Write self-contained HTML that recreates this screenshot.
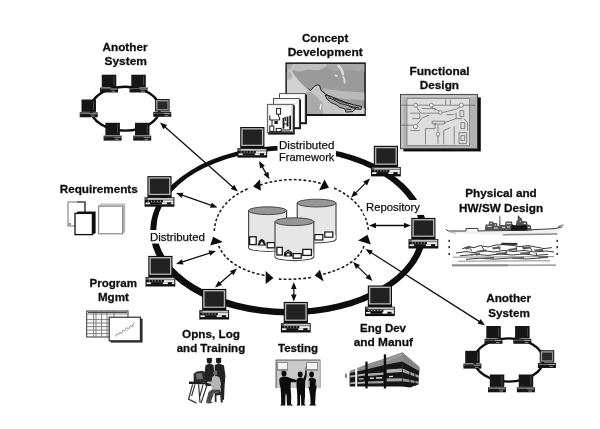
<!DOCTYPE html>
<html><head><meta charset="utf-8"><title>Distributed Framework</title>
<style>
html,body{margin:0;padding:0;background:#fff;}
body{width:600px;height:429px;overflow:hidden;font-family:"Liberation Sans",sans-serif;}
svg{display:block;}
text{font-family:"Liberation Sans",sans-serif;fill:#111;}
.b{font-weight:bold;font-size:11.7px;stroke:#111;stroke-width:0.3px;stroke-linejoin:round;}
.r{font-size:11.1px;stroke:#111;stroke-width:0.25px;stroke-linejoin:round;}
</style></head><body>
<svg width="600" height="429" viewBox="0 0 600 429">
<defs>
<filter id="soft" x="-5%" y="-5%" width="110%" height="110%"><feGaussianBlur stdDeviation="0.4"/></filter>
<g id="pc">
 <rect x="0" y="0" width="24.2" height="21.6" fill="#0e0e0e"/>
 <rect x="1.1" y="1.1" width="22" height="17.9" fill="#b2b2b2"/>
 <rect x="2.5" y="2.5" width="19.2" height="15.2" fill="#242424"/>
 <rect x="-2.8" y="21.2" width="29.8" height="9.4" fill="#0e0e0e"/>
 <rect x="-1.9" y="21.9" width="28" height="1.9" fill="#c4c4c4"/>
 <rect x="-1.9" y="21.9" width="2.4" height="1.9" fill="#555"/>
 <rect x="15.6" y="24.2" width="10.4" height="2.3" fill="#ececec"/>
 <rect x="-1.7" y="26.4" width="27.7" height="1.8" fill="#f0f0f0"/>
 <rect x="2.6" y="26.3" width="12" height="2" fill="#0e0e0e"/>
 <rect x="19.6" y="26.3" width="4.2" height="2" fill="#0e0e0e"/>
 <rect x="0.4" y="24.6" width="1.2" height="0.9" fill="#ddd"/><rect x="3.4" y="24.6" width="1.2" height="0.9" fill="#ddd"/><rect x="6.4" y="24.6" width="1.2" height="0.9" fill="#ddd"/><rect x="9.4" y="24.6" width="1.2" height="0.9" fill="#ddd"/><rect x="12.4" y="24.6" width="1.2" height="0.9" fill="#ddd"/>
</g>
<g id="sp">
 <rect x="1.8" y="0" width="14.5" height="12.4" fill="#161616"/>
 <rect x="13.6" y="1.6" width="0.7" height="9" fill="#5a5a5a"/>
 <rect x="0" y="12.8" width="18" height="5" fill="#161616"/>
 <rect x="0.8" y="13.9" width="16.4" height="0.9" fill="#c4c4c4"/>
 <rect x="1.4" y="14.4" width="9" height="1.4" fill="#161616"/>
 <rect x="11.5" y="16.1" width="3.6" height="0.8" fill="#aaa"/>
</g>
<g id="spl">
 <rect x="1.8" y="0" width="14.5" height="12.4" fill="#161616"/>
 <rect x="2.8" y="1" width="12.5" height="10.4" fill="#9c9c9c"/>
 <rect x="4.2" y="2.4" width="10" height="7.8" fill="#2a2a2a"/>
 <rect x="0" y="12.8" width="18" height="5" fill="#161616"/>
 <rect x="0.8" y="13.9" width="16.4" height="0.9" fill="#c4c4c4"/>
 <rect x="1.4" y="14.4" width="9" height="1.4" fill="#161616"/>
 <rect x="11.5" y="16.1" width="3.6" height="0.8" fill="#aaa"/>
</g>
</defs>
<rect width="600" height="429" fill="#fff"/>
<g filter="url(#soft)">

<!-- main ring -->
<ellipse cx="288.32" cy="230.5" rx="138.1" ry="85.0" fill="#0a0a0a"/>
<ellipse cx="288.04" cy="229.7" rx="131.68" ry="79.3" fill="#fff" transform="rotate(0.655 288.04 229.7)"/>
<!-- dashed ring -->
<g fill="none" stroke="#1a1a1a" stroke-width="1.55" stroke-dasharray="2.8 2.1">
<path d="M 260 185 Q 291 175 321 183.5"/>
<path d="M 334 188 Q 366 203 368.5 231"/>
<path d="M 364 246 Q 357 266 321 274.8"/>
<path d="M 311 277.5 Q 293 280 277 279"/>
<path d="M 264.5 275.5 Q 228 268 218.6 245.7"/>
<path d="M 214.3 231 Q 216 203 248 188.5"/>
</g>
<g fill="#111">
<polygon points="253.1,186.6 260.0,179.3 260.9,190.8"/>
<polygon points="324.5,179.6 319.0,190.5 329.0,187.8"/>
<polygon points="367.5,234.7 358.0,240.5 370.9,244.5"/>
<polygon points="314.7,275.6 319.9,269.7 323.7,281.5"/>
<polygon points="273.5,278.0 265.7,271.0 265.7,283.9"/>
<polygon points="222.9,242.1 213.1,236.7 210.2,245.5"/>
</g>
<!-- cylinders -->
<path d="M 248.6 210.70000000000002 L 248.6 247.5 A 19.000000000000014 3.9 0 0 0 286.6 247.5 L 286.6 210.70000000000002 Z" fill="#e6e6e6" stroke="#4a4a4a" stroke-width="1.2"/><path d="M 249.1 243.0 A 18.500000000000014 3.9 0 0 0 286.1 243.0 L 286.1 247.0 A 18.500000000000014 3.9 0 0 1 249.1 247.0 Z" fill="#fafafa"/><ellipse cx="267.6" cy="210.70000000000002" rx="19.000000000000014" ry="3.9" fill="#969696" stroke="#4a4a4a" stroke-width="1"/>
<g fill="#fff" stroke="#151515" stroke-width="1.3"><rect x="249.6" y="236.8" width="6.6" height="7.8"/><rect x="267.2" y="242.6" width="7.4" height="5.2"/></g>
<path d="M257.4 245.6 L259.4 240.4 L261.8 238.8 L264.2 240.4 L266.2 245.6 Z" fill="#151515"/><path d="M259.8 244.6 L261.8 241.6 L263.8 244.6Z" fill="#fff"/>
<path d="M 297.2 203.1 L 297.2 238.9 A 19.400000000000006 3.9 0 0 0 336 238.9 L 336 203.1 Z" fill="#e6e6e6" stroke="#4a4a4a" stroke-width="1.2"/><path d="M 297.7 234.4 A 18.900000000000006 3.9 0 0 0 335.5 234.4 L 335.5 238.4 A 18.900000000000006 3.9 0 0 1 297.7 238.4 Z" fill="#fafafa"/><ellipse cx="316.6" cy="203.1" rx="19.400000000000006" ry="3.9" fill="#969696" stroke="#4a4a4a" stroke-width="1"/>
<g fill="#fff" stroke="#151515" stroke-width="1.2"><rect x="314.8" y="234.6" width="8" height="5.4"/><rect x="324.8" y="232" width="8" height="5.2"/></g>
<path d="M 275 221.70000000000002 L 275 256.70000000000005 A 19.400000000000006 3.9 0 0 0 313.8 256.70000000000005 L 313.8 221.70000000000002 Z" fill="#e6e6e6" stroke="#4a4a4a" stroke-width="1.2"/><path d="M 275.5 252.20000000000005 A 18.900000000000006 3.9 0 0 0 313.3 252.20000000000005 L 313.3 256.20000000000005 A 18.900000000000006 3.9 0 0 1 275.5 256.20000000000005 Z" fill="#fafafa"/><ellipse cx="294.4" cy="221.70000000000002" rx="19.400000000000006" ry="3.9" fill="#969696" stroke="#4a4a4a" stroke-width="1"/>
<g fill="#fff" stroke="#151515" stroke-width="1.3"><rect x="276.9" y="247.4" width="5.4" height="7.6"/><rect x="293.2" y="253.6" width="8" height="4.6"/><rect x="302.8" y="249.4" width="8.6" height="6"/></g>
<path d="M283.8 256.4 L284.2 252.4 L288.2 249.6 L292.2 252.4 L292.6 256.4 Z" fill="#151515"/><rect x="286.8" y="253.6" width="2.8" height="2" fill="#fff"/><path d="M286 252.6 L288.2 251.2 L290.4 252.6" stroke="#ddd" stroke-width="0.6" fill="none"/>
<!-- arrows -->
<line x1="163.1" y1="125.3" x2="234.7" y2="188.7" stroke="#111" stroke-width="1.3"/>
<polygon points="237.8,191.5 230.7,189.0 234.4,184.8" fill="#111"/>
<polygon points="160.0,122.5 163.4,129.2 167.1,125.0" fill="#111"/>
<line x1="180.0" y1="194.4" x2="213.5" y2="206.1" stroke="#111" stroke-width="1.3"/>
<polygon points="217.5,207.5 210.0,207.8 211.8,202.5" fill="#111"/>
<polygon points="176.0,193.0 181.7,198.0 183.5,192.7" fill="#111"/>
<line x1="261.1" y1="164.6" x2="267.3" y2="175.6" stroke="#111" stroke-width="1.3"/>
<polygon points="269.4,179.2 263.5,174.5 268.4,171.7" fill="#111"/>
<polygon points="259.0,161.0 260.0,168.5 264.9,165.7" fill="#111"/>
<line x1="367.0" y1="181.6" x2="354.0" y2="194.6" stroke="#111" stroke-width="1.3"/>
<polygon points="351.0,197.6 354.0,190.7 357.9,194.6" fill="#111"/>
<polygon points="370.0,178.6 363.1,181.6 367.0,185.5" fill="#111"/>
<line x1="373.2" y1="225.5" x2="406.8" y2="225.5" stroke="#111" stroke-width="1.3"/>
<polygon points="411.0,225.5 404.0,228.3 404.0,222.7" fill="#111"/>
<polygon points="369.0,225.5 376.0,228.3 376.0,222.7" fill="#111"/>
<line x1="356.0" y1="264.9" x2="369.5" y2="278.1" stroke="#111" stroke-width="1.3"/>
<polygon points="372.5,281.0 365.5,278.1 369.4,274.1" fill="#111"/>
<polygon points="353.0,262.0 356.1,268.9 360.0,264.9" fill="#111"/>
<line x1="369.0" y1="251.3" x2="481.5" y2="322.9" stroke="#111" stroke-width="1.3"/>
<polygon points="485.0,325.2 477.6,323.8 480.6,319.1" fill="#111"/>
<polygon points="365.5,249.0 369.9,255.1 372.9,250.4" fill="#111"/>
<line x1="293.8" y1="286.2" x2="293.8" y2="297.3" stroke="#111" stroke-width="1.3"/>
<polygon points="293.8,301.5 291.0,294.5 296.6,294.5" fill="#111"/>
<polygon points="293.8,282.0 291.0,289.0 296.6,289.0" fill="#111"/>
<line x1="218.2" y1="284.8" x2="233.8" y2="271.2" stroke="#111" stroke-width="1.3"/>
<polygon points="237.0,268.5 233.5,275.2 229.9,271.0" fill="#111"/>
<polygon points="215.0,287.5 222.1,285.0 218.5,280.8" fill="#111"/>
<line x1="180.0" y1="262.7" x2="212.0" y2="252.3" stroke="#111" stroke-width="1.3"/>
<polygon points="216.0,251.0 210.2,255.8 208.5,250.5" fill="#111"/>
<polygon points="176.0,264.0 183.5,264.5 181.8,259.2" fill="#111"/>
<rect x="277.5" y="139" width="58.5" height="24.5" fill="#fff"/>
<rect x="364" y="200" width="64" height="14.9" fill="#fff"/>
<rect x="148.5" y="230" width="58" height="13.5" fill="#fff"/>
<!-- computers -->
<use href="#pc" x="240.2" y="127"/>
<use href="#pc" x="373.8" y="145.8"/>
<use href="#pc" x="411.3" y="217.9"/>
<use href="#pc" x="367.8" y="285.5"/>
<use href="#pc" x="283.7" y="301.9"/>
<use href="#pc" x="202.1" y="288.9"/>
<use href="#pc" x="148.3" y="255.9"/>
<use href="#pc" x="147.4" y="176.1"/>
<!-- small systems -->
<ellipse cx="125.2" cy="108.7" rx="34.4" ry="21.9" fill="none" stroke="#0a0a0a" stroke-width="2.4"/>
<use href="#sp" x="100" y="74.7"/>
<use href="#sp" x="129.5" y="74.7"/>
<use href="#sp" x="79.7" y="99.5"/>
<use href="#spl" x="153.3" y="99"/>
<use href="#sp" x="103.6" y="122.8"/>
<use href="#sp" x="133.2" y="122.8"/>
<ellipse cx="508.8" cy="360" rx="34.4" ry="21.6" fill="none" stroke="#0a0a0a" stroke-width="2.4"/>
<use href="#sp" x="484.5" y="326"/>
<use href="#sp" x="513.3" y="326"/>
<use href="#sp" x="463.4" y="350.8"/>
<use href="#spl" x="537.9" y="350.2"/>
<use href="#sp" x="488" y="374.5"/>
<use href="#sp" x="516.9" y="374.5"/>
<!-- labels -->
<text x="102.5" y="51" class="b" text-anchor="start" textLength="45" lengthAdjust="spacingAndGlyphs">Another</text>
<text x="104.5" y="65" class="b" text-anchor="start" textLength="42.5" lengthAdjust="spacingAndGlyphs">System</text>
<text x="302" y="41.8" class="b" text-anchor="start" textLength="46.3" lengthAdjust="spacingAndGlyphs">Concept</text>
<text x="287.7" y="55.5" class="b" text-anchor="start" textLength="75" lengthAdjust="spacingAndGlyphs">Development</text>
<text x="409.6" y="74.6" class="b" text-anchor="start" textLength="60" lengthAdjust="spacingAndGlyphs">Functional</text>
<text x="419.8" y="88.7" class="b" text-anchor="start" textLength="39.2" lengthAdjust="spacingAndGlyphs">Design</text>
<text x="59.7" y="193.1" class="b" text-anchor="start" textLength="78" lengthAdjust="spacingAndGlyphs">Requirements</text>
<text x="465.2" y="196.7" class="b" text-anchor="start" textLength="71.6" lengthAdjust="spacingAndGlyphs">Physical and</text>
<text x="459.1" y="211.9" class="b" text-anchor="start" textLength="84" lengthAdjust="spacingAndGlyphs">HW/SW Design</text>
<text x="89.5" y="287" class="b" text-anchor="start" textLength="47.4" lengthAdjust="spacingAndGlyphs">Program</text>
<text x="97.9" y="301.4" class="b" text-anchor="start" textLength="31" lengthAdjust="spacingAndGlyphs">Mgmt</text>
<text x="182" y="337.5" class="b" text-anchor="start" textLength="58" lengthAdjust="spacingAndGlyphs">Opns, Log</text>
<text x="176.7" y="351.7" class="b" text-anchor="start" textLength="68.5" lengthAdjust="spacingAndGlyphs">and Training</text>
<text x="278" y="351.7" class="b" text-anchor="start" textLength="40" lengthAdjust="spacingAndGlyphs">Testing</text>
<text x="360" y="332" class="b" text-anchor="start" textLength="46" lengthAdjust="spacingAndGlyphs">Eng Dev</text>
<text x="353.7" y="346.3" class="b" text-anchor="start" textLength="59.3" lengthAdjust="spacingAndGlyphs">and Manuf</text>
<text x="486.2" y="301.9" class="b" text-anchor="start" textLength="45" lengthAdjust="spacingAndGlyphs">Another</text>
<text x="488.3" y="316.6" class="b" text-anchor="start" textLength="41.5" lengthAdjust="spacingAndGlyphs">System</text>
<text x="279" y="149.4" class="r" text-anchor="start" textLength="55.4" lengthAdjust="spacingAndGlyphs">Distributed</text>
<text x="279" y="161" class="r" text-anchor="start" textLength="55.4" lengthAdjust="spacingAndGlyphs">Framework</text>
<text x="366" y="211" class="r" text-anchor="start" textLength="54" lengthAdjust="spacingAndGlyphs">Repository</text>
<text x="150" y="240.5" class="r" text-anchor="start" textLength="55" lengthAdjust="spacingAndGlyphs">Distributed</text>
<!-- Concept Development map -->
<g>
<rect x="285.4" y="62.4" width="80.4" height="53.6" fill="#141414"/>
<rect x="286.9" y="63.9" width="77.4" height="50" fill="#9a9a9a"/>
<clipPath id="mapc"><rect x="286.9" y="63.9" width="77.4" height="50"/></clipPath>
<g clip-path="url(#mapc)">
<path d="M286 63 L328 63 L326 67 L318 70.5 L308 69.6 L299 71.4 L294 70 L291 72 L286 70 Z" fill="#bebebe"/>
<path d="M286 63 L293 63 L292 66 L289.6 69 L286 70 Z" fill="#a8a8a8"/>
<path d="M326 63 L365 63 L365 72 L350 70 L338 71 L328 69 Z" fill="#a6a6a6"/>
<path d="M286 72 L291 70 L295 76 L300 82 L305 87 L308 89 L306 93 L303 100 L300 114.5 L286 114.5 Z" fill="#d2d2d2"/>
<path d="M286 72 L290 71 L293 76 L290 80 L286 79 Z" fill="#b4b4b4"/>
<path d="M308 89 L310.6 91 L313.5 87.4 L317 85.2 L319.6 86 L321 90.8 L325.5 94.2 L331 97.4 L340 101.6 L350 105 L361.6 107.4 L365 108 L365 114.5 L300 114.5 L303 100 L306 93 Z" fill="#c6c6c6"/>
<path d="M306 93 L310.6 91.6 L318 98 L322.6 103 L323 114.5 L300 114.5 L303 100 Z" fill="#a9a9a9"/>
<path d="M323 88.6 Q340 91.6 365 92.4 L365 100.6 Q348 100 331 97 L325.5 94 Z" fill="#b9b9b9"/>
<path d="M338.4 65.6 Q342 69 343 74.2" fill="none" stroke="#dcdcdc" stroke-width="2.4" stroke-linecap="round"/>
<path d="M343.4 77 Q345 80 344.6 82.8 M335.4 75.4 L337 76" fill="none" stroke="#d8d8d8" stroke-width="1.9" stroke-linecap="round"/>
<path d="M321 104.6 L320.2 109" stroke="#eee" stroke-width="1.5" stroke-linecap="round"/>
<path d="M340 108 L365 108.6 L365 114.5 L345 114.5 Z" fill="#d4d4d4"/>
<path d="M325 95 L331 96.4 L338 99.4 L346 102.4 L353 104.6 L361.6 106.6 L361 109.4 L355 109 L353 111.6 L346 112.2 L344.6 108.6 L340 107.6 L336 104.6 L331 102.6 L327 99 Z" fill="#a2a2a2" stroke="#222" stroke-width="1"/>
<path d="M328 97.4 L334 100 L340 103.4 L347 105.2 L353 107 L359 107.8 M333 98.4 L341 101.6 L349 104 M346 109 L351 109.6 M349 106.6 L356 108.6" stroke="#1e1e1e" stroke-width="0.9" fill="none"/>
<path d="M307.8 88.3 L310.6 90.6 L313.5 87 L317 84.8 L319.6 85.5 L321 90.5 L325.5 94 L331.2 97.1" fill="none" stroke="#262626" stroke-width="1"/>
</g>
</g>
<!-- paper stack -->
<g>
<rect x="280.6" y="94.6" width="26.4" height="29.6" fill="#161616"/><rect x="279.6" y="93.7" width="25.6" height="28.8" fill="#fff" stroke="#2a2a2a" stroke-width="0.8"/>
<rect x="274.4" y="99.4" width="26.6" height="29.8" fill="#161616"/><rect x="273.4" y="98.5" width="25.9" height="29" fill="#fff" stroke="#2a2a2a" stroke-width="0.8"/>
<rect x="268.2" y="105.2" width="26.6" height="29.4" fill="#161616"/><rect x="267.3" y="104.3" width="25.8" height="28.5" fill="#fff" stroke="#2a2a2a" stroke-width="0.8"/>
<rect x="268.9" y="105.9" width="22.6" height="25.3" fill="none" stroke="#cfcfcf" stroke-width="0.7"/>
<rect x="275.2" y="100" width="22.4" height="3.4" fill="none" stroke="#dcdcdc" stroke-width="0.6"/>
<g fill="none" stroke="#1c1c1c" stroke-width="1">
<rect x="276.6" y="108.4" width="4" height="5.8"/>
<path d="M278.6 114.2 L278.6 117 M269.8 115.4 L269.8 120 L279.6 120 M279.6 117 L279.6 120 M272 120 L272 126"/>
<rect x="269.8" y="126" width="4" height="5.4"/>
<rect x="276.2" y="128.4" width="5" height="3.4"/>
<path d="M269 132 L292.4 132" stroke-width="1.2"/>
<path d="M283.4 128.6 L283.4 118.4 L285.4 117.2 L285.4 121 M287.6 117 L287.6 126 M290.2 116 L290.2 129.6 M283.4 124 L287.6 124 M281.2 130 L290 130"/>
</g>
<path d="M282.6 118 L284.4 118 L284.4 128.6 L282.6 128.6Z M286.6 116.4 L288.4 116.4 L288.4 126.6 L286.6 126.6Z M289.4 115.4 L291 115.4 L291 129.6 L289.4 129.6Z" fill="#1c1c1c"/>
<rect x="274.4" y="121" width="3.4" height="3" fill="#1c1c1c"/>
</g>
<!-- Functional Design -->
<g>
<rect x="403.4" y="97.4" width="77.4" height="54" fill="#0c0c0c"/>
<rect x="400.5" y="94.4" width="77" height="54.4" fill="#b2b2b2" stroke="#3a3a3a" stroke-width="0.9"/>
<path d="M402.2 147 L402.2 96.2 L475.6 96.2" fill="none" stroke="#d6d6d6" stroke-width="1"/>
<rect x="407" y="98.6" width="62.5" height="47" fill="#dedede" stroke="#7c7c7c" stroke-width="0.8"/>
<g fill="none" stroke="#666" stroke-width="0.75" transform="translate(407 0.6) scale(0.956 1) translate(-406.6 0)">
<g fill="#f2f2f2">
<circle cx="415.6" cy="104.6" r="2"/><circle cx="432" cy="104.6" r="2"/><circle cx="441.4" cy="112" r="1.8"/><circle cx="463.4" cy="104.6" r="2.2"/><circle cx="415.6" cy="126" r="2.2"/><circle cx="439" cy="133.6" r="1.8"/>
</g>
<path d="M400 104.6 L413.6 104.6 M417.6 104.6 L430 104.6 M434 104.6 L461 104.6 M465.6 104.6 L478 104.6"/>
<path d="M416.6 106.4 L421 112.6 L439.6 112.6 M432.6 106.6 L440.2 110.6 M443.2 112 L458 108.6 L462 106.4"/>
<path d="M410 112.6 L420 112.6 L420 118 L412 118 M400 124.6 L413.4 124.6 M416.8 124 L423 117 L430 114.6"/>
<path d="M433 120.6 L446 120.6 L446 123.4 L433 123.4 Z M446 122 L458 118 L464 118 M458 112 L458 118"/>
<path d="M426 143.6 L426 128 L436 128 L436 122 M439 131.8 L439 124 M439 135.4 L439 143.6 M445 143.6 L445 130 L452 127"/>
<path d="M462 110 L466 110 L466 116 L462 116 Z M463 122 L467 122 L467 128 L463 128 Z"/>
<path d="M461 132 L469 132 L469 143 L461 143 Z M463 135 L467 135 L467 140 L463 140 Z M456 143.6 L456 126"/>
<path d="M447 99 L447 104 M452 99 L452 104 M422 108 L436 108 L436 110 M410 130 L420 130 M448 114 L456 114 M466 118 L470 122 L470 130"/>
</g>
</g>

<!-- Requirements icons -->
<g>
<rect x="68" y="202" width="17" height="24" fill="#fff" stroke="#8a8a8a" stroke-width="1.2"/>
<path d="M77 202 L85 202 L85 213" fill="none" stroke="#333" stroke-width="1.2"/>
<path d="M68.6 224 L71 224" stroke="#777" stroke-width="1.6"/>
<path d="M76 213.2 L77.8 211.4 L95.6 211.4 L95.6 232.8 L94 234.6 Z" fill="#111"/>
<rect x="75" y="213.4" width="17.4" height="21.2" fill="#fff" stroke="#111" stroke-width="1.3"/>
<rect x="101" y="204" width="23.8" height="27" fill="#fff" stroke="#b4b4b4" stroke-width="0.9"/>
<rect x="100" y="205" width="23.8" height="27.6" fill="#fff" stroke="#a2a2a2" stroke-width="0.9"/>
<rect x="98.6" y="206.2" width="24" height="27.6" fill="#fff" stroke="#8a8a8a" stroke-width="1.2"/>
<path d="M123.8 206.4 L123.8 233" stroke="#aaa" stroke-width="1.2"/>
</g>
<!-- Program Mgmt icons -->
<g>
<rect x="86.6" y="311" width="41.4" height="26" fill="#fafafa" stroke="#555" stroke-width="1.2"/>
<g stroke="#777" stroke-width="0.9" fill="none">
<path d="M87 314 L128 314 M87 319.6 L110 319.6 M87 323 L110 323 M87 326.6 L110 326.6 M87 330 L110 330 M87 333.6 L110 333.6"/>
<path d="M93.6 311 L93.6 337 M96 311 L96 337 M101.6 311 L101.6 337 M107 311 L107 337 M114 311 L114 317"/>
</g>
<path d="M88 312.4 L127 312.4" stroke="#333" stroke-width="1"/>
<rect x="110.6" y="318.6" width="32" height="24" fill="#333"/>
<rect x="109.2" y="317.2" width="31.2" height="23.6" fill="#fff" stroke="#222" stroke-width="1.1"/>
<path d="M115.6 336 L117 333.6 L118.4 335 L120 332 L121.6 333.4 L123 330 L124.6 331 L126.6 327.6 L128.6 329 L130.4 325.6 L131.8 327 L133.4 323.6 L134.6 322.4" fill="none" stroke="#9a9a9a" stroke-width="1"/>
<path d="M115 337 L116.6 335.6 M121 335 L123 332 M127 331.4 L129 328 M132 328.6 L133.6 325" fill="none" stroke="#bbb" stroke-width="0.8"/>
</g>

<!-- Opns people -->
<g>
<ellipse cx="209.4" cy="360.8" rx="2.6" ry="3" fill="#1c1c1c"/><path d="M206.4 359.4 L212.4 359 L212 358 L207 358.2Z" fill="#1c1c1c"/>
<path d="M205.4 365.4 Q209.4 363 213.6 365 L214.4 374 L213.6 386 L205.6 386 L204.6 374 Z" fill="#222"/>
<ellipse cx="218.6" cy="360.8" rx="2.6" ry="3" fill="#1c1c1c"/><path d="M215.6 359.4 L221.6 359 L221.2 358 L216.2 358.2Z" fill="#1c1c1c"/>
<path d="M214.8 365 Q218.6 363 224 365.4 L225.4 376 L224.6 386 L224 399.8 L220.8 399.8 L220.6 388 L215 386 Z" fill="#222"/>
<path d="M214 366 L214.6 372 L216 371" stroke="#888" stroke-width="0.7" fill="none"/>
<!-- console -->
<path d="M193.6 374 Q196 370.4 203 371 L205.6 372.6 L206 382 L193.6 382 Z" fill="#2a2a2a"/>
<path d="M196 373.6 L202 373 L203 379 L196.6 379.6 Z" fill="#6e6e6e"/>
<path d="M189 381.6 L211.6 382.4 L211.6 384.6 L189 384 Z" fill="#1e1e1e"/>
<path d="M192.6 384.4 L188.6 399 M195 384.4 L191.6 396 M198.6 384.4 L200 402.6 M203 384.6 L199.4 398 M207 385 L201 403" stroke="#2a2a2a" stroke-width="1.1" fill="none"/>
<path d="M188 398.8 L196.6 403.2" stroke="#444" stroke-width="1.4"/>
<!-- seated -->
<ellipse cx="215.4" cy="372.8" rx="2.1" ry="2.5" fill="#6a6a6a"/>
<path d="M212.4 376.6 Q216 375 219.6 377.4 L221 384 L220 389.6 L212 389.6 L210.6 384 L207 383 L207.4 381.4 L211.6 381.6 Z" fill="#b4b4b4"/>
<path d="M212 389.6 L220.4 389.6 L220.6 392 L214 393 L211 401.4 L213 403 L207.6 403.4 L206 402 L208.6 392 Z" fill="#4a4a4a"/>
<path d="M214.6 393 L222.4 391.6 L222.8 402.6 L220.8 402.6 L220.4 395 L216.4 395.6 L216.6 402 L214.8 402 Z" fill="#2a2a2a"/>
</g>
<!-- Testing -->
<g>
<rect x="275.6" y="359.6" width="45" height="28.4" fill="#c9c9c9"/>
<path d="M276.2 388 L276.2 360.2 L320.4 360.2" fill="none" stroke="#7a7a7a" stroke-width="1.3"/>
<path d="M320.2 361 L320.2 388" stroke="#999" stroke-width="0.9"/>
<rect x="277.6" y="362.6" width="10" height="6.8" fill="#f4f4f4" stroke="#777" stroke-width="0.8"/>
<rect x="306.6" y="362.6" width="11" height="6.8" fill="#f4f4f4" stroke="#777" stroke-width="0.8"/>
<path d="M277 370.6 L288 370.6 M306 370.6 L318 370.6" stroke="#888" stroke-width="0.8"/>
<path d="M282 370 L282 373 M306.4 366 L305.4 372" stroke="#444" stroke-width="0.8"/>
<!-- fig 1 -->
<ellipse cx="284" cy="373.6" rx="2.5" ry="2.9" fill="#0c0c0c"/>
<path d="M279.2 379.4 Q280 377 284 376.6 Q288 376.6 290.6 378.2 L296.6 380 L296.4 382.2 L290.8 382.2 L290.6 388 L291.2 396 L291 403.8 L293 405.6 L287 405.6 L286.6 396 L286 393 L285.4 396 L285.2 405.6 L280.4 405.6 L281.2 403.8 L281 394 L280.6 388 L279.6 384 Z" fill="#0c0c0c"/>
<!-- fig 2 -->
<ellipse cx="300.2" cy="374.4" rx="2.4" ry="2.8" fill="#0c0c0c"/>
<path d="M296.4 380 Q297.4 377.6 300.2 377.4 Q302.4 377.4 303.4 378.4 L305 374 L305.6 370.6 L306.8 371 L306.6 376 L305.2 381.4 L305 388 L305 396 L304.4 404 L305.8 405.6 L301.2 405.6 L301 396 L300.6 394 L300.2 396 L300 405.6 L296.6 405.6 L297.4 404 L297.2 394 L296.6 387 Z" fill="#0c0c0c"/>
<!-- fig 3 -->
<ellipse cx="311.6" cy="374.4" rx="2.4" ry="2.8" fill="#0c0c0c"/>
<path d="M308.4 380 Q309 377.6 311.6 377.4 Q315 377.6 316 380 L316.6 387 L315.8 392 L315.4 398 L315 404 L316.4 405.6 L309 405.6 L310.6 403.8 L310.2 396 L309.4 391 L308.4 387 Z" fill="#0c0c0c"/>
<path d="M309 380.4 L309 387" stroke="#f0f0f0" stroke-width="1.1"/>
<path d="M316 382 L316.2 386" stroke="#ddd" stroke-width="0.8"/>
</g>
<!-- Eng Dev building -->
<g>
<!-- body black -->
<path d="M348.4 372 L366 366.6 L384 361 L402.3 357 L419.4 369 L418.4 384.4 L410 387.4 L402.3 386.6 L350 386.6 L348.4 385 Z" fill="#151515"/>
<!-- roof -->
<path d="M348.4 371.4 L366 364.4 L384.6 358.6 L402.3 352.2 L419.4 367 L419.4 371 L402.3 361.6 L386.6 364.6 L366 369.6 L348.4 373.6 Z" fill="#8e8e8e"/>
<path d="M402.3 352.2 L419.4 367 L419.4 371 L402.3 361.6 Z" fill="#858585"/>
<path d="M386.6 360 L402.3 353.4 L402.3 355 L386.6 361.6Z" fill="#a4a4a4"/>
<!-- front bands -->
<path d="M386.6 369.6 L402.3 368.4 L402.3 372 L386.6 373Z" fill="#b4b4b4"/>
<path d="M386.6 378.6 L402.3 378.2 L402.3 381.2 L386.6 381.6Z" fill="#a8a8a8"/>
<path d="M368 373.6 L383.6 372.4 L383.6 374.8 L368 376Z" fill="#adadad"/>
<path d="M368 381.4 L383.6 381 L383.6 383.2 L368 383.6Z" fill="#a4a4a4"/>
<path d="M357.6 374.4 L365 373.6 L365 375.6 L357.6 376.4Z M357.6 382 L365 381.6 L365 383.6 L357.6 384Z" fill="#b0b0b0"/>
<path d="M350.2 375.6 L355.2 375 L355.2 376.8 L350.2 377.4Z M350.2 382.4 L355.2 382 L355.2 383.8 L350.2 384.2Z" fill="#b6b6b6"/>
<path d="M370 377.6 L374 377.4 L374 378.8 L370 379Z M376 377.2 L382 377 L382 378.6 L376 378.8Z M358.6 378.4 L363.6 378.2 L363.6 379.4 L358.6 379.6Z M389 376 L393 375.8 L393 377 L389 377.2Z" fill="#dedede"/>
<!-- right face bands -->
<path d="M402.3 368.4 L419 375.4 L419 378 L402.3 372Z" fill="#a2a2a2"/>
<path d="M402.3 378.2 L418.4 381.6 L418.4 383.6 L402.3 381.2Z" fill="#969696"/>
<path d="M402.3 361.6 L402.3 386.6" stroke="#2a2a2a" stroke-width="0.8"/>
<path d="M410 366 L410 387 M415 369 L415 385.6" stroke="#1a1a1a" stroke-width="0.9"/>
<!-- pillars -->
<rect x="347.9" y="369" width="1.7" height="18.8" fill="#fdfdfd"/>
<rect x="355.2" y="366.6" width="2" height="21.2" fill="#fdfdfd"/>
<rect x="345.4" y="373.6" width="1.2" height="4.2" fill="#333"/>
<rect x="365.4" y="361.6" width="2.2" height="26.8" fill="#0a0a0a"/>
<rect x="383.8" y="354.4" width="2.3" height="34" fill="#0a0a0a"/>
</g>

<!-- ship -->
<g>
<path d="M447.6 231 L466 231 L484 230.6 L520 230.4 L555 228.6 L562 227 L559 231 L556 234.4 L503 235 L470 234 L452 233 Z" fill="#f1f1f1"/>
<g fill="none" stroke="#3a3a3a" stroke-width="1">
<path d="M446 229.4 L448 231 L466 231 L466 228.6 L478 228.4 L478 231 L484 230.8 L520 230.4 L555 228.6 L562.4 226.8"/>
</g>
<path d="M448 231.4 L456 233.4" stroke="#aaa" stroke-width="0.9"/>
<path d="M503 234.8 L557.6 234" stroke="#8c8c8c" stroke-width="1.6"/>
<path d="M484.6 230.6 L485.6 224.4 L488.6 224.4 L489.2 221.4 L493 221.4 L493.6 223 L497 223 L497.6 226 L499.2 226 L499.4 215.8 L500.2 215.8 L500.6 225 L505 225 L505.6 221.6 L512 221.6 L512.6 225.6 L516 225.6 L516.6 220.6 L517.6 220.6 L517.8 215.6 L518.8 215.6 L519 219 L521 217.6 L522 219.4 L522.4 221 L527 221.4 L527.6 224.6 L530.6 225.2 L532 230.4 Z" fill="#555"/>
<path d="M487.6 226.4 L491.6 226.4 M490.4 223.4 L492 223.4 M494.6 225 L496 225 M494 228 L498 228 M502 227.4 L505 227.4 M506.6 223.6 L511 223.6 M507 227 L510 227 M519.6 221.4 L521 221.4 M523.6 223.4 L526 223.4 M528 227.4 L530 227.4" stroke="#e6e6e6" stroke-width="1"/>
<path d="M511.6 224.6 L516 225.6 L526.6 225 L527.4 230.4 L511 230.6 Z" fill="#161616"/>
<path d="M518.4 216.4 L520.6 218.8" stroke="#222" stroke-width="1.2"/>
<path d="M558 226.6 L563.4 224.8" stroke="#555" stroke-width="0.9"/>
<!-- deck plan -->
<g fill="#2e2e2e"><rect x="448.4" y="239.8" width="1.6" height="2"/><rect x="448.4" y="246" width="1.6" height="2.2"/><rect x="448.4" y="253" width="1.6" height="2"/>
<rect x="556.4" y="239.8" width="1.6" height="2"/><rect x="556.4" y="246" width="1.6" height="2.2"/><rect x="556.4" y="253" width="1.6" height="2"/></g>
<path d="M453 257.2 L554 256.6 M458 261.2 L550 260.8" stroke="#8a8a8a" stroke-width="1"/>
<path d="M452 265.4 L556 265.2" stroke="#a6a6a6" stroke-width="1.8"/>
<path d="M452 265.4 L508 265.3" stroke="#8a8a8a" stroke-width="1.8"/>
<g stroke="#3c3c3c" stroke-width="1" fill="none">
<path d="M462 249 L468 246.6 L474 247.6 L480 245.6 L488 247 L496 245 L503 244.6 L512 245.4 L520 246.6 L528 245.6 L536 247 L544 248.6 L552 247.6"/>
<path d="M456 253 L466 251.6 L474 252.6 L484 250.6 L494 252 L504 250.4 L514 251.6 L524 250.4 L534 252 L546 251 L554 252"/>
<path d="M460 255.8 L476 254.4 L488 255.4 L500 254 L512 255 L524 254 L536 255.4 L548 254.4"/>
<path d="M466 259.4 L480 258.2 L494 259.2 L510 258 L526 259 L540 258"/>
<path d="M470 248.6 L472 251 M482 246.6 L484 250 M498 246 L500 250 M516 246.6 L517 251 M530 247 L532 251 M542 249 L543 252 M476 253 L477 256 M506 251 L507 254 M536 253 L537 256"/>
</g>
<path d="M501.6 242.8 L517 243 L517.6 245 L501 244.8 Z" fill="#2c2c2c"/>
<path d="M464 247.6 L470 246 L472 248 L466 249.6 Z M476 251 L486 249.4 L487 251.4 L478 252.6 Z M492 247.6 L500 246.6 L501 248.6 L493 249.6 Z M508 249 L516 248 L517 250 L509 251 Z M522 247 L530 246.4 L531 248.4 L523 249.4 Z M534 249.6 L542 249 L542 251 L535 251.6 Z M470 254 L480 253 L480 254.6 L471 255.6 Z M496 253 L506 252 L506 254 L497 255 Z M520 252.6 L530 252 L530 254 L521 254.6 Z M484 257.6 L494 257 L494 258.6 L485 259.2 Z M512 257.4 L524 257 L524 258.6 L513 259 Z M538 256.6 L548 256 L548 258 L539 258.4 Z" fill="#5a5a5a"/>
</g>

</g></svg></body></html>
